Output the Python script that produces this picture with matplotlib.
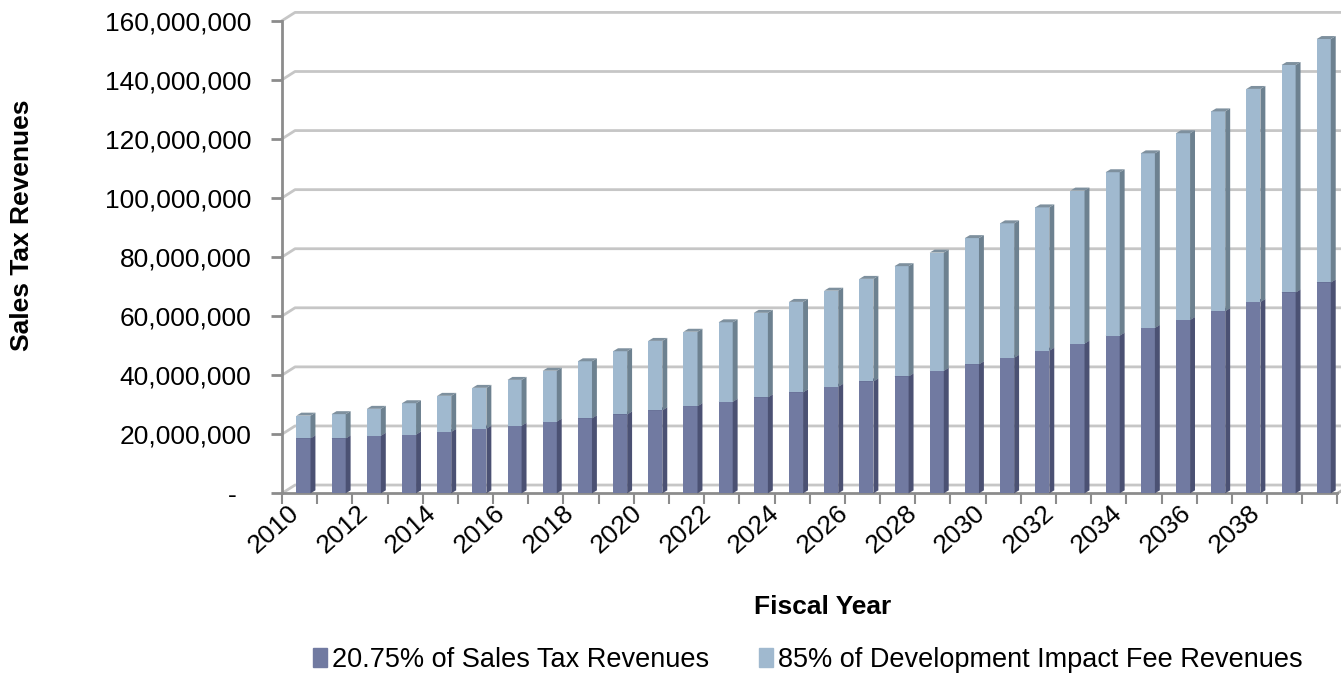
import numpy as np
import matplotlib
matplotlib.use("Agg")
import matplotlib.pyplot as plt
from matplotlib.patches import Polygon, Patch
from matplotlib.ticker import FuncFormatter

plt.rcParams['font.family'] = ['Liberation Sans', 'DejaVu Sans']

# fiscal years and revenues (millions)
years = list(range(2010, 2040))
sales_tax = [18.6, 18.6, 19.5, 19.9, 20.8, 21.9, 22.9, 24.3, 25.4, 26.7,
             28.1, 29.5, 31.0, 32.5, 34.2, 36.1, 37.9, 39.6, 41.5, 43.7,
             45.9, 48.3, 50.7, 53.4, 56.0, 58.7, 61.7, 64.8, 68.0, 71.4]
impact_fee = [7.7, 8.2, 9.1, 10.6, 12.2, 13.8, 15.5, 17.2, 19.3, 21.4,
              23.5, 25.2, 26.9, 28.6, 30.6, 32.5, 34.7, 37.3, 40.0, 42.7,
              45.5, 48.5, 51.8, 55.3, 59.1, 63.2, 67.6, 72.1, 77.0, 82.4]
labels = ["20.75% of Sales Tax Revenues", "85% of Development Impact Fee Revenues"]
yticks = list(range(0, 160000001, 20000000))

sales = np.array(sales_tax) * 1e6
fee = np.array(impact_fee) * 1e6
x = np.arange(len(years))

dark = ['#717AA1', '#4B5173', '#5C6489']
light = ['#A0B9CF', '#6D8190', '#7E909E']

fig = plt.figure(figsize=(13.41, 6.74), dpi=100)
ax = fig.add_axes([0.2103, 0.2681, 0.7897, 0.7012])

w = 0.40      # front face width
dx = 0.14     # depth offset, x
dy = 1.0e6    # depth offset, y
gx = 0.37     # back wall offset
gy = 2.8e6

x0, x1 = -0.61, 29.49
ax.set_xlim(x0, x1)
ax.set_ylim(0, 160000000)

# back wall gridlines
for v in yticks:
    ax.plot([x0, x0 + gx, x1], [v, v + gy, v + gy], color='#c6c6c6', lw=2,
            clip_on=False, zorder=1)

def bar3d(xs, bottom, height, cols):
    ax.bar(xs, height, w, bottom=bottom, color=cols[0], zorder=3)
    for xi, b, h in zip(xs, bottom, height):
        t = b + h
        r = xi + w / 2
        side = Polygon([(r, b), (r + dx, b + dy), (r + dx, t + dy), (r, t)],
                       closed=True, fc=cols[1], ec='none', zorder=3, clip_on=False)
        top = Polygon([(xi - w / 2, t), (xi - w / 2 + dx, t + dy), (r + dx, t + dy), (r, t)],
                      closed=True, fc=cols[2], ec='none', zorder=3, clip_on=False)
        ax.add_patch(side)
        ax.add_patch(top)

bar3d(x, np.zeros(len(x)), sales, dark)
bar3d(x, sales, fee, light)

# axes styling
for s in ['top', 'right']:
    ax.spines[s].set_visible(False)
ax.spines['left'].set_color('#8c8c8c')
ax.spines['left'].set_linewidth(2)
ax.spines['bottom'].set_color('#8c8c8c')
ax.spines['bottom'].set_linewidth(2)
ax.spines['bottom'].set_bounds(x0, 29.39)
ax.plot([29.39, 29.39 + gx], [0, gy], color='#b0b0b0', lw=2, clip_on=False, zorder=2)

ax.set_yticks(yticks)
ax.yaxis.set_major_formatter(FuncFormatter(lambda v, p: '-  ' if v == 0 else '{:,.0f}'.format(v)))
ax.tick_params(axis='y', length=8, width=2, color='#8c8c8c', pad=14, labelsize=19)

# category labels sit on the front plane, a little left of the bars
ax.set_xticks(x[::2] * 0.975 - 0.45)
ax.set_xticklabels([str(y) for y in years[::2]], rotation=42, ha='right',
                   rotation_mode='anchor')
ax.tick_params(axis='x', length=0, pad=5, labelsize=19)
ax.set_xticks(np.arange(31) - 0.61, minor=True)
ax.tick_params(axis='x', which='minor', length=8, width=1.5, color='#8c8c8c')

fig.text(22 / 1341, 1 - 225 / 674, 'Sales Tax Revenues', rotation=90, fontsize=19,
         fontweight='bold', ha='center', va='center')
fig.text(823 / 1341, 1 - 607.5 / 674, 'Fiscal Year', fontsize=19,
         fontweight='bold', ha='center', va='center')

handles = [Patch(color=dark[0]), Patch(color=light[0])]
fig.legend(handles, labels, loc='center', bbox_to_anchor=(808 / 1341, 1 - 660 / 674),
           ncol=2, frameon=False, fontsize=19.5, handlelength=0.5, handleheight=0.7,
           handletextpad=0.2, columnspacing=1.85, borderpad=0)

fig.savefig('out.png', dpi=100)
